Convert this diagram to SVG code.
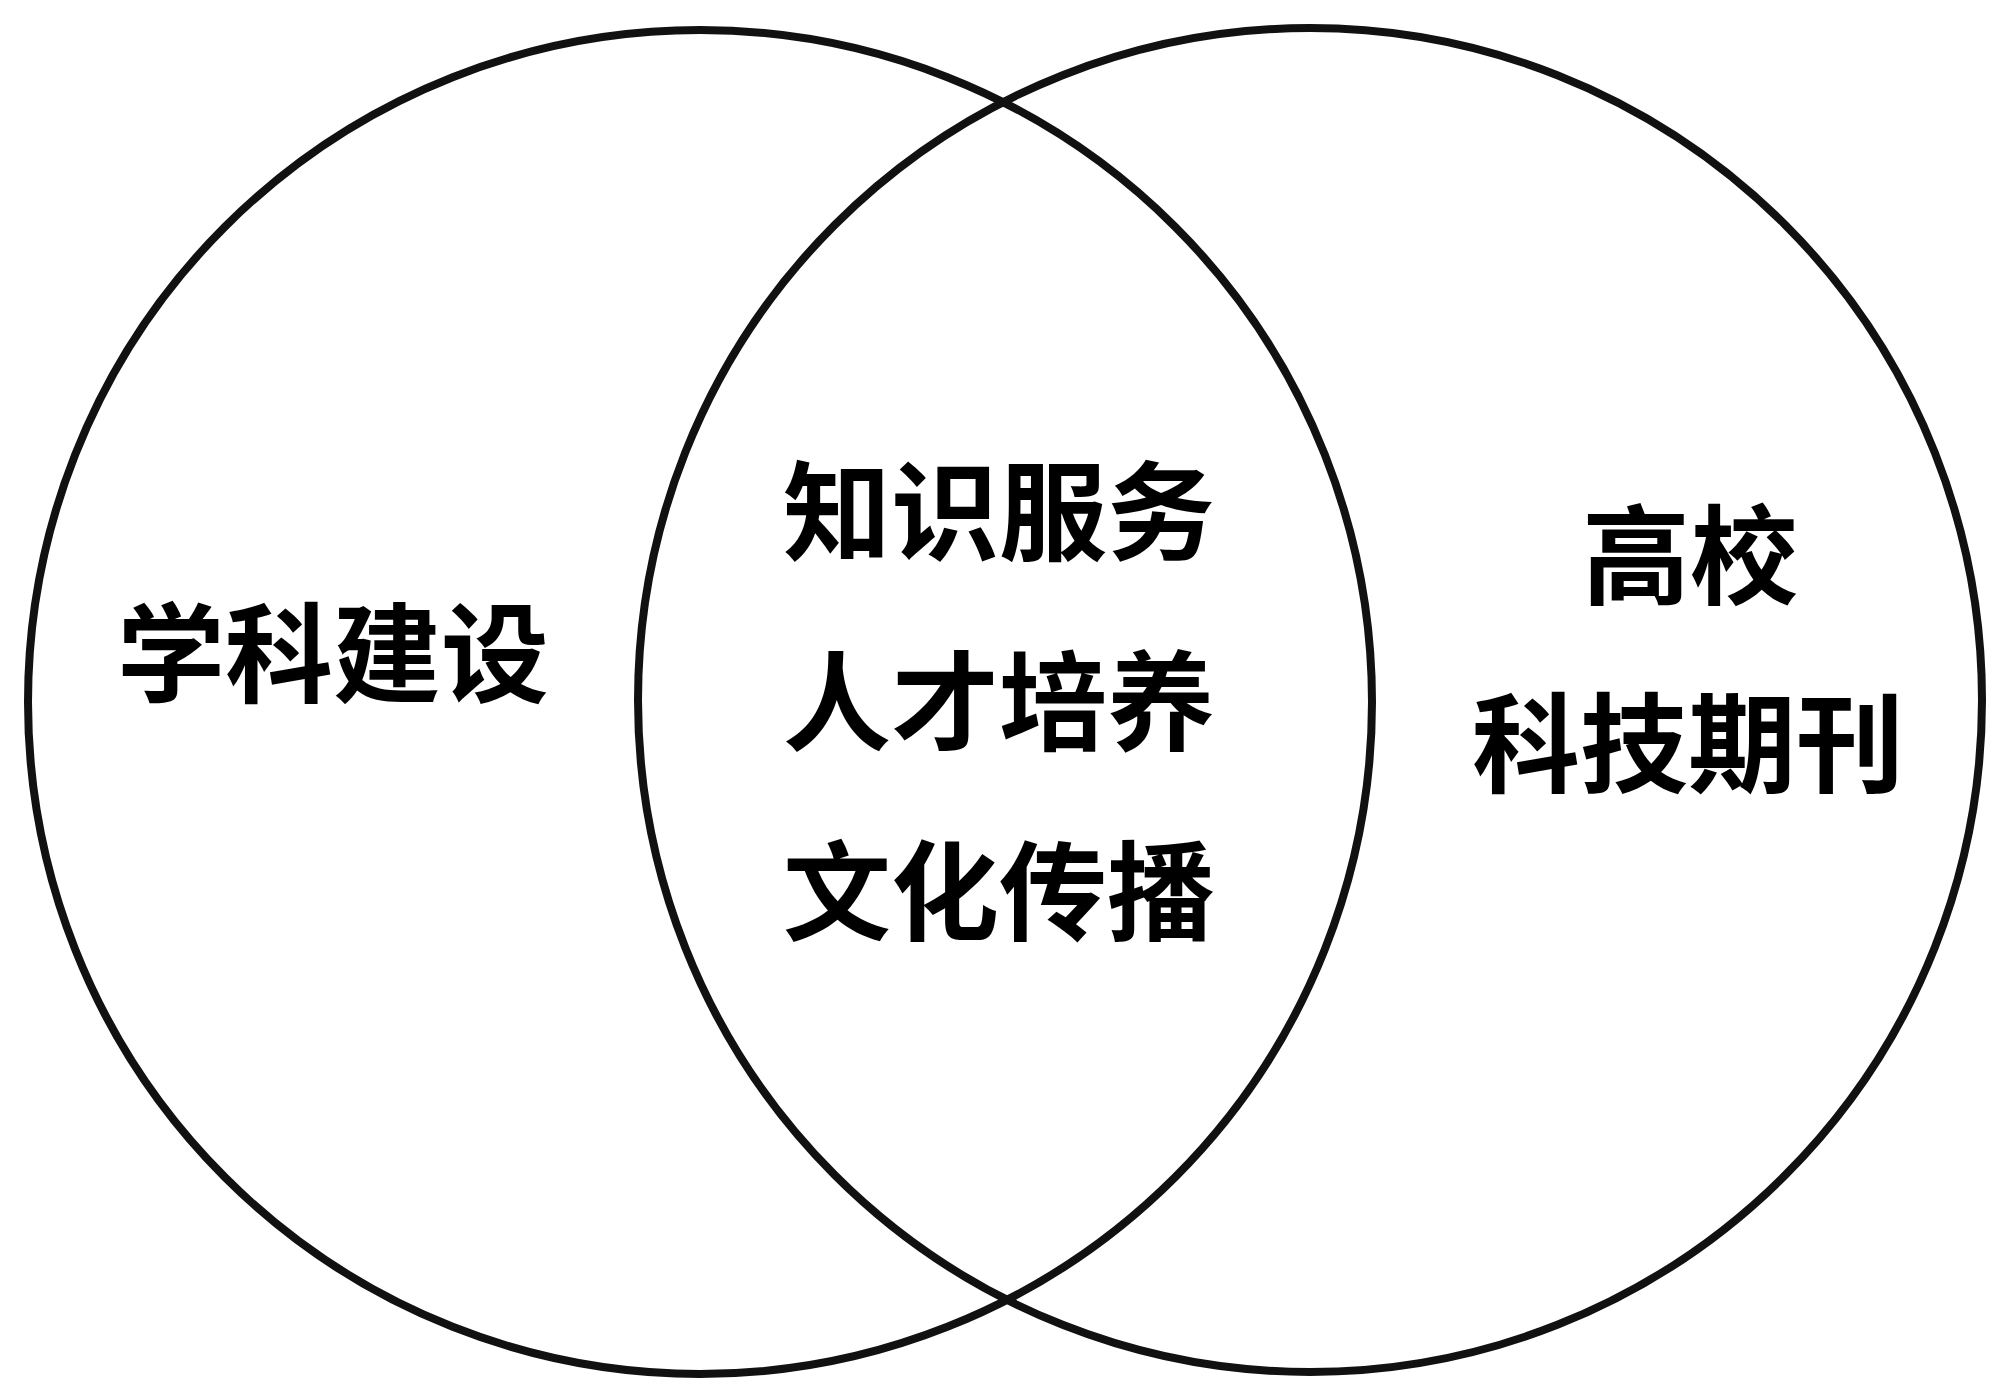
<svg xmlns="http://www.w3.org/2000/svg" width="2000" height="1398" viewBox="0 0 2000 1398">
<style>
.c{fill:none;stroke:#111;stroke-width:8}
.t{font-family:"Noto Sans CJK SC","Noto Sans CJK TC",sans-serif;font-weight:700;font-size:108px;fill:#000;text-anchor:middle;dominant-baseline:central}
</style>
<rect width="2000" height="1398" fill="#fff"/>
<g id="left">
<circle class="c" cx="700" cy="702" r="672"/>
<text class="t" x="333" y="647">学科建设</text>
</g>
<g id="right">
<circle class="c" cx="1310" cy="700" r="672"/>
<text class="t" x="1690" y="549">高校</text>
<text class="t" x="1688" y="737">科技期刊</text>
</g>
<g id="overlap">
<text class="t" x="999" y="505">知识服务</text>
<text class="t" x="999" y="695">人才培养</text>
<text class="t" x="999" y="885">文化传播</text>
</g>
<g id="connectors"/>
</svg>
